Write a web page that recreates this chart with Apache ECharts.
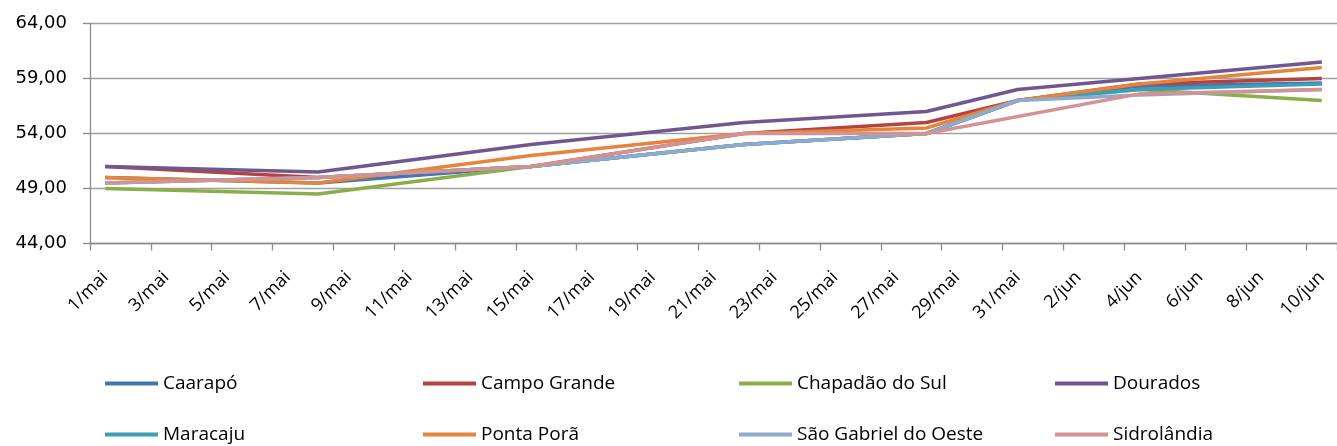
<!DOCTYPE html>
<html>
<head>
<meta charset="utf-8">
<script src="https://cdn.jsdelivr.net/npm/echarts@6/dist/echarts.min.js"></script>
<style>
html,body{margin:0;padding:0;background:#fff;}
#chart{width:1337px;height:446px;}
</style>
</head>
<body>
<div id="chart"></div>
<script>
// x-axis categories (daily)
const days = ['1/mai','2/mai','3/mai','4/mai','5/mai','6/mai','7/mai','8/mai','9/mai','10/mai',
  '11/mai','12/mai','13/mai','14/mai','15/mai','16/mai','17/mai','18/mai','19/mai','20/mai',
  '21/mai','22/mai','23/mai','24/mai','25/mai','26/mai','27/mai','28/mai','29/mai','30/mai','31/mai',
  '1/jun','2/jun','3/jun','4/jun','5/jun','6/jun','7/jun','8/jun','9/jun','10/jun'];
// observation dates
const obsDates = ['1/mai','8/mai','15/mai','22/mai','28/mai','31/mai','4/jun','10/jun'];
// series values (aligned with obsDates; null = no quote)
const caarapo       = [50.0, 49.5, 51.0, 53.0, 54.0, 57.0, 58.3, 58.6];
const campoGrande   = [51.0, 50.0, 51.0, 54.0, 55.0, 57.0, 58.5, 59.0];
const chapadao      = [49.0, 48.5, 51.0, 53.0, 54.0, 57.0, 58.0, 57.0];
const dourados      = [51.0, 50.5, 53.0, 55.0, 56.0, 58.0, 59.0, 60.5];
const maracaju      = [49.5, 50.0, 51.0, 53.0, 54.0, 57.0, 58.0, 58.5];
const pontaPora     = [50.0, 49.5, 52.0, 54.0, 54.5, 57.0, 58.5, 60.0];
const saoGabriel    = [49.5, 50.0, 51.0, 53.0, 54.0, 57.0, 57.5, 58.0];
const sidrolandia   = [49.5, 50.0, 51.0, 54.0, 54.0, null, 57.6, 58.0];
const seriesNames = ['Caarapó','Campo Grande','Chapadão do Sul','Dourados','Maracaju','Ponta Porã','São Gabriel do Oeste','Sidrolândia'];
const seriesValues = [caarapo, campoGrande, chapadao, dourados, maracaju, pontaPora, saoGabriel, sidrolandia];
// y-axis ticks
const yMin = 44, yMax = 64, yStep = 5;

const colors = ['#4775B1','#B3443F','#8BAE4B','#71578F','#3E9EB6','#E5843A','#8FAAD0','#D39392'];

const series = seriesNames.map((n, i) => ({
  name: n,
  type: 'line',
  data: obsDates.map((d, j) => seriesValues[i][j] == null ? null : [d, seriesValues[i][j]]).filter(p => p !== null),
  connectNulls: true,
  symbol: 'none',
  smooth: false,
  lineStyle: {width: 3.5, color: colors[i]},
  itemStyle: {color: colors[i]},
  z: 2 + i
}));

const legX = [105, 423, 739, 1055];
const legY = [374, 425];
const legends = seriesNames.map((n, i) => ({
  data: [n],
  left: legX[i % 4],
  top: legY[Math.floor(i / 4)],
  orient: 'horizontal',
  icon: 'rect',
  itemWidth: 53,
  itemHeight: 4,
  padding: 0,
  textStyle: {fontFamily: 'Open Sans', fontSize: 19, color: '#000'},
  selectedMode: false
}));

const chart = echarts.init(document.getElementById('chart'), null, {renderer: 'canvas'});
chart.setOption({
  animation: false,
  color: colors,
  legend: legends,
  grid: {left: 90, right: -9, top: 23.5, bottom: 202.5, containLabel: false},
  xAxis: {
    type: 'category',
    data: days,
    boundaryGap: true,
    axisLine: {lineStyle: {color: '#8C8C8C', width: 1.3}},
    axisTick: {show: true, interval: 1, length: 7, lineStyle: {color: '#8C8C8C', width: 1.3}},
    axisLabel: {interval: 1, rotate: 45, margin: 31, fontFamily: 'Open Sans', fontSize: 18, color: '#000'},
    splitLine: {show: false}
  },
  yAxis: {
    type: 'value',
    min: yMin, max: yMax, interval: yStep,
    axisLine: {show: true, lineStyle: {color: '#8C8C8C', width: 1.3}},
    axisTick: {show: true, length: 7, lineStyle: {color: '#8C8C8C', width: 1.3}},
    axisLabel: {margin: 23, fontFamily: 'DejaVu Sans', fontSize: 18, color: '#000',
      formatter: v => v.toFixed(2).replace('.', ',')},
    splitLine: {lineStyle: {color: '#A0A0A0', width: 1.3}}
  },
  series: series
});
</script>
</body>
</html>
